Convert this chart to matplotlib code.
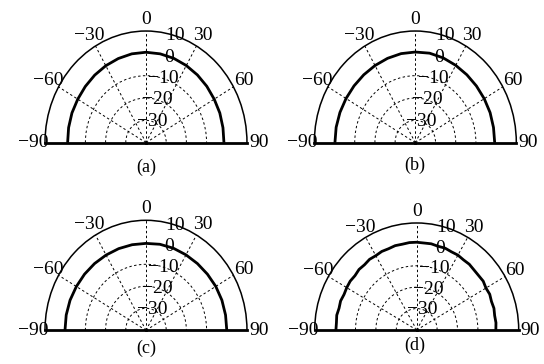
import numpy as np
import matplotlib.pyplot as plt

plt.rcParams['font.family'] = ['Liberation Serif', 'DejaVu Serif']
plt.rcParams['font.size'] = 14

# pattern levels in dB against angle in degrees
theta_coarse = np.arange(-90, 91, 10)
theta_fine = np.arange(-90, 91, 5)

gain_a = [-1.2, -1.1, -1.0, -1.0, -0.8, -0.5, -0.2, 0.1, 0.4, 0.5,
          0.4, 0.2, -0.1, -0.4, -0.7, -1.0, -1.1, -1.3, -1.4]
gain_b = [-0.2, -0.2, -0.3, -0.4, -0.4, -0.3, -0.1, 0.2, 0.5, 0.6,
          0.7, 0.4, 0.0, -0.3, -0.5, -0.6, -0.6, -0.7, -0.7]
gain_c = [0.1, 0.1, 0.0, -0.2, -0.3, -0.4, -0.5, -0.5, -0.5, -0.5,
          -0.3, -0.3, -0.4, -0.4, -0.3, -0.1, 0.0, 0.0, 0.0]
gain_d = [-0.4, -0.5, -0.2, -0.6, -0.3, -0.7, -0.4, -0.2, -0.5, 0.0,
          -0.2, 0.3, 0.1, 0.5, 0.4, 0.8, 0.7, 1.0, 1.0, 0.8,
          0.9, 0.5, 0.7, 0.3, 0.4, 0.0, 0.1, -0.3, -0.4, -0.2,
          -0.8, -0.5, -1.0, -0.8, -1.2, -1.0, -1.2]

angle_ticks = [-90, -60, -30, 0, 30, 60, 90]
angle_labels = ['\u221290', '\u221260', '\u221230', '0', '30', '60', '90']
r_ticks = [-30, -20, -10, 0, 10]
r_labels = ['\u221230', '\u221220', '\u221210', '0', '10']
r_grid = [-30, -20, -10]
r_min, r_max = -40, 10

panels = [
    ('(a)', theta_coarse, gain_a, [0.0827, 0.4545, 0.3713, 0.6137], (0.268, 0.541)),
    ('(b)', theta_coarse, gain_b, [0.5778, 0.4545, 0.3713, 0.6137], (0.763, 0.546)),
    ('(c)', theta_coarse, gain_c, [0.0827, -0.0585, 0.3713, 0.6044], (0.268, 0.042)),
    ('(d)', theta_fine, gain_d, [0.5785, -0.0536, 0.375, 0.588], (0.763, 0.052)),
]

fig = plt.figure(figsize=(5.44, 3.64), dpi=100)

for caption, theta, gain, rect, cap_xy in panels:
    ax = fig.add_axes(rect, projection='polar')
    ax.set_aspect('auto')
    ax.set_theta_zero_location('N')
    ax.set_theta_direction(-1)
    ax.set_thetamin(-90)
    ax.set_thetamax(90)
    ax.set_ylim(r_min, r_max)

    ax.plot(np.deg2rad(theta), gain, color='black', lw=2.0)

    ax.set_thetagrids(angle_ticks, angle_labels)
    ax.tick_params(axis='x', pad=-2)
    ax.set_rgrids(r_grid)
    ax.set_yticklabels([])
    ax.grid(True, color='black', lw=0.7, linestyle=(0, (2.5, 2.5)))

    ax.spines['polar'].set_linewidth(1.1)
    ax.spines['start'].set_linewidth(2.0)
    ax.spines['end'].set_linewidth(2.0)
    ax.spines['inner'].set_visible(False)

    for r, lab in zip(r_ticks, r_labels):
        ax.text(np.deg2rad(17), r, lab, ha='center', va='center')

    fig.text(cap_xy[0], cap_xy[1], caption, ha='center', va='center', fontsize=13)

fig.savefig('out.png', dpi=100)
